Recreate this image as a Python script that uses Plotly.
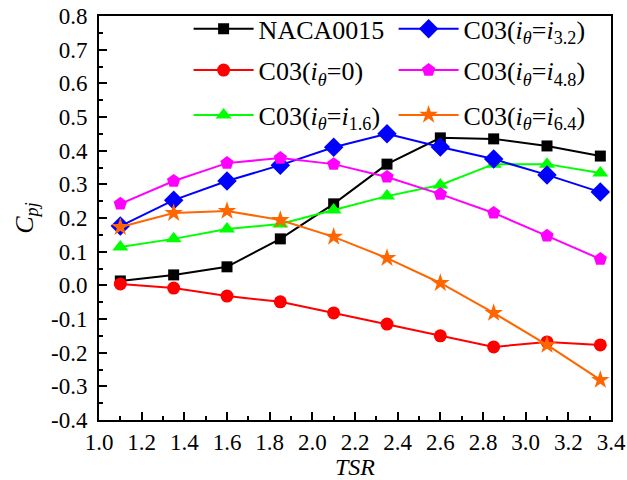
import plotly.graph_objects as go

tsr = [1.1, 1.35, 1.6, 1.85, 2.1, 2.35, 2.6, 2.85, 3.1, 3.35]

naca0015 = [0.013, 0.031, 0.055, 0.138, 0.242, 0.360, 0.438, 0.435, 0.414, 0.384]
c03_0 = [0.004, -0.008, -0.032, -0.049, -0.082, -0.115, -0.150, -0.183, -0.168, -0.177]
c03_16 = [0.114, 0.138, 0.167, 0.182, 0.224, 0.265, 0.298, 0.360, 0.360, 0.334]
c03_32 = [0.176, 0.253, 0.310, 0.357, 0.410, 0.450, 0.411, 0.375, 0.328, 0.277]
c03_48 = [0.242, 0.310, 0.363, 0.378, 0.360, 0.322, 0.271, 0.215, 0.147, 0.078]
c03_64 = [0.173, 0.215, 0.221, 0.194, 0.144, 0.081, 0.007, -0.082, -0.177, -0.281]

names = [
    "NACA0015",
    "C03(<i>i</i><sub><i>θ</i></sub>=0)",
    "C03(<i>i</i><sub><i>θ</i></sub>=<i>i</i><sub>1.6</sub>)",
    "C03(<i>i</i><sub><i>θ</i></sub>=<i>i</i><sub>3.2</sub>)",
    "C03(<i>i</i><sub><i>θ</i></sub>=<i>i</i><sub>4.8</sub>)",
    "C03(<i>i</i><sub><i>θ</i></sub>=<i>i</i><sub>6.4</sub>)",
]

x_ticks = [1.0, 1.2, 1.4, 1.6, 1.8, 2.0, 2.2, 2.4, 2.6, 2.8, 3.0, 3.2, 3.4]
x_ticktext = ["1.0", "1.2", "1.4", "1.6", "1.8", "2.0", "2.2", "2.4", "2.6", "2.8", "3.0", "3.2", "3.4"]
y_ticks = [-0.4, -0.3, -0.2, -0.1, 0.0, 0.1, 0.2, 0.3, 0.4, 0.5, 0.6, 0.7, 0.8]
y_ticktext = ["-0.4", "-0.3", "-0.2", "-0.1", "0.0", "0.1", "0.2", "0.3", "0.4", "0.5", "0.6", "0.7", "0.8"]

FONT = "Liberation Serif, Times New Roman, serif"

series = [
    (naca0015, names[0], "#000000", "square", 11, "legend"),
    (c03_0, names[1], "#ff0000", "circle", 13, "legend2"),
    (c03_16, names[2], "#00ff00", "triangle-up", 14, "legend3"),
    (c03_32, names[3], "#0000ff", "diamond", 15, "legend"),
    (c03_48, names[4], "#ff00ff", "pentagon", 14, "legend2"),
    (c03_64, names[5], "#ff6600", "star", 14, "legend3"),
]

fig = go.Figure()
for ys, nm, col, sym, sz, lg in series:
    fig.add_trace(go.Scatter(
        x=tsr, y=ys, name=nm, mode="lines+markers",
        line=dict(color=col, width=2),
        marker=dict(symbol=sym, size=sz, color=col),
        legend=lg,
    ))

leg_common = dict(
    orientation="h", xanchor="left", yanchor="middle", x=0.175,
    font=dict(family=FONT, size=26, color="black"),
    bgcolor="rgba(0,0,0,0)", borderwidth=0,
    entrywidth=130, entrywidthmode="pixels", itemwidth=60,
    traceorder="normal",
)

fig.update_layout(
    width=627, height=480,
    margin=dict(l=99, r=16, t=16, b=60, autoexpand=False),
    paper_bgcolor="white", plot_bgcolor="white",
    font=dict(family=FONT, size=23, color="black"),
    legend=dict(leg_common, y=0.968),
    legend2=dict(leg_common, y=0.866),
    legend3=dict(leg_common, y=0.755),
)

fig.update_xaxes(
    range=[1.0, 3.4], tickmode="array", tickvals=x_ticks, ticktext=x_ticktext,
    ticks="inside", ticklen=8, tickwidth=2, tickcolor="black",
    minor=dict(dtick=0.1, tick0=1.0, ticks="inside", ticklen=4, tickwidth=2, tickcolor="black"),
    showline=True, linewidth=2, linecolor="black", mirror=True,
    showgrid=False, zeroline=False, automargin=False,
    tickfont=dict(family=FONT, size=23, color="black"),
    ticklabelstandoff=0,
    title=dict(text="<i>TSR</i>", font=dict(family=FONT, size=24, color="black"), standoff=0),
)
fig.update_yaxes(
    range=[-0.4, 0.8], tickmode="array", tickvals=y_ticks, ticktext=y_ticktext,
    ticks="inside", ticklen=8, tickwidth=2, tickcolor="black",
    minor=dict(dtick=0.05, tick0=-0.4, ticks="inside", ticklen=4, tickwidth=2, tickcolor="black"),
    showline=True, linewidth=2, linecolor="black", mirror=True,
    showgrid=False, zeroline=False, automargin=False,
    tickfont=dict(family=FONT, size=23, color="black"),
    ticklabelstandoff=5,
    title=dict(text="<i>C</i><sub><i>pj</i></sub>", font=dict(family=FONT, size=26, color="black"), standoff=10),
)

fig.write_html("out.html")
